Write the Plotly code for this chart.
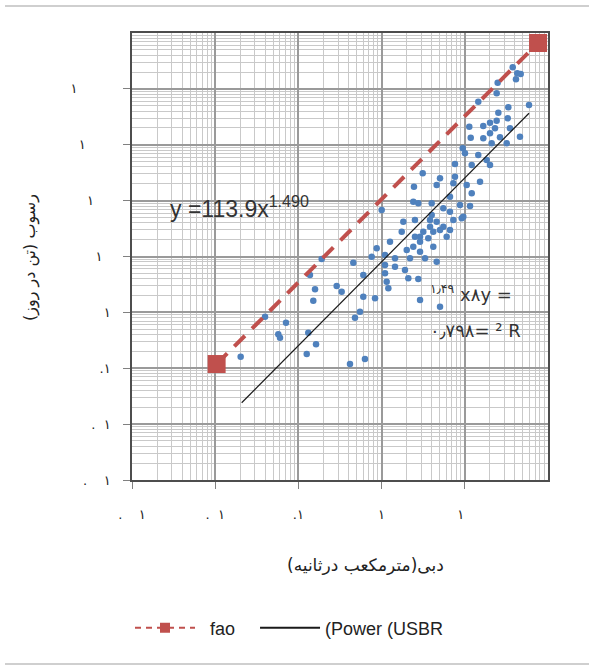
import numpy as np
import plotly.graph_objects as go

# ---- data (log10 units) ----
log_discharge = [1.576,1.631,1.672,1.615,1.395,1.383,1.162,1.772,1.523,1.403,1.516,1.303,1.383,1.222,1.054,1.363,1.543,1.303,1.663,1.071,1.222,1.423,1.323,1.504,0.975,
 1.002,1.162,1.263,1.303,1.083,0.882,0.494,0.702,0.882,1.183,0.389,0.662,0.862,1.023,0.822,0.381,0.441,0.602,0.942,1.063,0.742,0.822,0.602,0.401,0.963,0.862,0.662,0.582,0.742,0.822,0.621,0.261,0.242,0.782,0.462,1.083,0.982,
 0.001,0.582,0.501,0.702,0.401,0.561,0.101,0.462,0.381,0.621,0.302,0.462,-0.059,0.041,0.161,0.522,0.662,-0.119,0.341,0.041,0.161,0.041,0.281,0.321,0.441,-0.220,0.061,0.081,-0.220,-0.079,0.462,0.702,
 -0.720,-0.340,-0.861,-0.800,-0.540,-0.480,-0.821,-0.260,-0.320,-1.401,-1.149,-1.242,-1.221,-0.881,-0.788,-0.900,-1.694,-0.380,-0.200]
log_sediment = [4.386,4.279,4.266,4.171,4.111,3.921,3.771,3.711,3.670,3.574,3.473,3.395,3.430,3.336,3.323,3.294,3.294,3.205,3.144,3.126,3.115,3.133,3.026,3.026,2.936,
 2.847,2.817,2.727,2.638,2.638,2.655,2.489,2.400,2.428,2.339,2.249,2.280,2.310,2.280,2.070,1.981,1.952,1.952,1.922,1.904,1.863,1.802,1.743,1.653,1.684,1.653,1.623,1.533,1.533,1.474,1.444,1.623,1.444,1.354,1.354,2.131,1.712,
 1.832,1.653,1.444,1.474,1.354,1.326,1.265,1.265,1.175,1.175,1.116,1.086,1.147,1.027,0.968,0.968,0.907,0.996,0.968,0.848,0.817,0.699,0.758,0.610,0.597,0.669,0.549,0.431,0.281,0.252,0.222,0.102,
 0.955,0.889,0.669,0.413,0.472,0.370,0.209,0.012,-0.095,-0.077,-0.185,-0.392,-0.453,-0.364,-0.571,-0.745,-0.793,-0.924,-0.834]

fao_q = [0.0104, 75.9]
fao_s = [0.119, 66200]
usbr_q = [0.0208, 59.1]
usbr_s = [0.0241, 3656]

x_tickvals = [0.001, 0.01, 0.1, 1, 10]
x_ticktext = [".\u2007\u2007۱", ".\u2007۱", ".۱", "۱", "۱\u2007"]
y_tickvals = [0.001, 0.01, 0.1, 1, 10, 100, 1000, 10000]
y_ticktext = [".\u2007\u2007۱", ".\u2007۱", ".۱", "۱", "۱\u2007", "۱\u2007\u2007", "۱\u2007\u2007\u2007", "۱\u2007\u2007\u2007\u2007"]

q = 10 ** np.array(log_discharge)
s = 10 ** np.array(log_sediment)

RED = "#C0504D"
BLUE = "#4F81BD"
FONT = "Liberation Sans, DejaVu Sans, sans-serif"
PFONT = "DejaVu Sans, sans-serif"
NB = "\u00a0"

fig = go.Figure()
fig.add_trace(go.Scatter(x=q, y=s, mode="markers", marker=dict(color=BLUE, size=6.5),
                         showlegend=False, cliponaxis=False))
fig.add_trace(go.Scatter(x=fao_q, y=fao_s, mode="lines+markers",
                         line=dict(color=RED, width=4, dash="15px,10px"),
                         marker=dict(symbol="square", size=18, color=RED),
                         showlegend=False, cliponaxis=False))
fig.add_trace(go.Scatter(x=usbr_q, y=usbr_s, mode="lines",
                         line=dict(color="#1a1a1a", width=1.2), showlegend=False))
# legend entries
fig.add_trace(go.Scatter(x=[None], y=[None], mode="lines+markers", name=NB * 2 + "fao" + NB * 3,
                         line=dict(color=RED, width=2, dash="6px,5px"),
                         marker=dict(symbol="square", size=10, color=RED)))
fig.add_trace(go.Scatter(x=[None], y=[None], mode="lines", name="(Power (USBR",
                         line=dict(color="#1a1a1a", width=2)))

L, R, T, B = 132, 41, 33, 185
W, H = 589, 665
PW, PH = W - L - R, H - T - B

def px_x(p):
    return (p - L) / PW

def px_y(p):
    return (H - B - p) / PH

minor_vals = [d * 10.0 ** k for k in range(-3, 6) for d in range(2, 10)]

axis_common = dict(type="log", showline=True, mirror=True, linecolor="#4d4d4d", linewidth=1.5,
                   showgrid=True, gridcolor="#9a9a9a", gridwidth=1.6,
                   ticks="outside", ticklen=7, tickcolor="#808080", tickwidth=1.2,
                   zeroline=False,
                   minor=dict(tickvals=minor_vals, showgrid=True, gridcolor="#c9c9c9", gridwidth=1, ticks=""),
                   tickfont=dict(family=PFONT, size=13, color="#222"))

fig.update_xaxes(range=[-3, 2], tickvals=x_tickvals, ticktext=x_ticktext,
                 ticklabelstandoff=15, **axis_common)
fig.update_yaxes(range=[-3, 5], tickvals=y_tickvals, ticktext=y_ticktext,
                 ticklabelstandoff=10, **axis_common)

annotations = [
    dict(text="y =113.9x<sup>1.490</sup>", x=px_x(168), y=px_y(207), xref="paper", yref="paper",
         xanchor="left", yanchor="middle", showarrow=False,
         font=dict(family=FONT, size=23, color="#333")),
    dict(text="<sup>۱٫۴۹</sup> x۸y =", x=px_x(428), y=px_y(293), xref="paper", yref="paper",
         xanchor="left", yanchor="middle", showarrow=False,
         font=dict(family=PFONT, size=18, color="#333")),
    dict(text="۰٫۷۹۸= ² R", x=px_x(428), y=px_y(330), xref="paper", yref="paper",
         xanchor="left", yanchor="middle", showarrow=False,
         font=dict(family=PFONT, size=18, color="#333")),
    dict(text="دبی(مترمکعب درثانیه)", x=px_x(365), y=px_y(565), xref="paper", yref="paper",
         xanchor="center", yanchor="middle", showarrow=False,
         font=dict(family=PFONT, size=17, color="#222")),
    dict(text="رسوب (تن در روز)", x=px_x(30), y=px_y(258), xref="paper", yref="paper",
         xanchor="center", yanchor="middle", showarrow=False, textangle=-90,
         font=dict(family=PFONT, size=16, color="#222")),
]

shapes = [
    dict(type="line", xref="paper", yref="paper", x0=px_x(5), x1=px_x(589), y0=px_y(6), y1=px_y(6),
         line=dict(color="#bfbfbf", width=1.5)),
    dict(type="line", xref="paper", yref="paper", x0=px_x(5), x1=px_x(589), y0=px_y(664), y1=px_y(664),
         line=dict(color="#bfbfbf", width=1.5)),
]

fig.update_layout(
    width=W, height=H,
    margin=dict(l=L, r=R, t=T, b=B, pad=0),
    paper_bgcolor="white", plot_bgcolor="white",
    font=dict(family=FONT, color="#222"),
    showlegend=True,
    legend=dict(orientation="h", x=px_x(130), y=px_y(628), xanchor="left", yanchor="middle",
                font=dict(family=FONT, size=18, color="#222"), itemwidth=60,
                bgcolor="rgba(0,0,0,0)", tracegroupgap=0),
    annotations=annotations,
    shapes=shapes,
)

fig.write_html("out.html")
